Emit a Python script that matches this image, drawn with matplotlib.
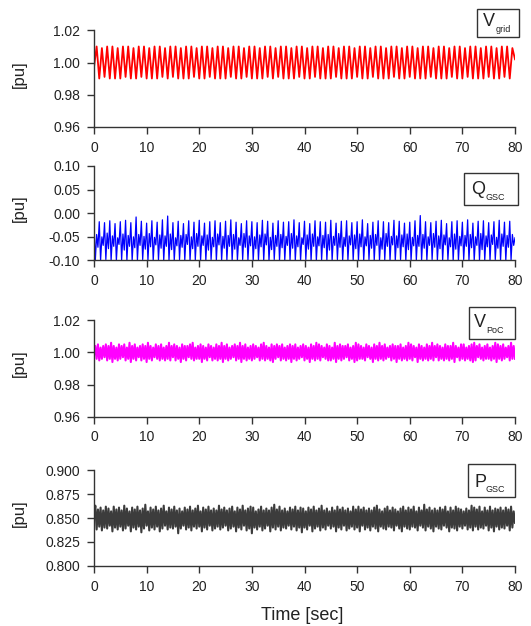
import matplotlib
matplotlib.use("Agg")
import matplotlib.pyplot as plt
from matplotlib.patches import Rectangle
import numpy as np

plt.rcParams['font.family'] = ['Liberation Sans', 'DejaVu Sans']

# time grids [sec]
t_half = np.arange(0, 80.001, 0.5)      # 161 samples
t_quarter = np.arange(0, 80.001, 0.25)  # 321 samples

# grid voltage [pu], sampled every 0.5 s
v_grid = [
    0.997, 1.010, 0.990, 1.009, 0.991, 1.010, 0.990, 1.010, 0.990, 1.009,
    0.990, 1.010, 0.991, 1.010, 0.990, 1.009, 0.990, 1.010, 0.991, 1.010,
    0.990, 1.009, 0.990, 1.010, 0.990, 1.010, 0.991, 1.009, 0.990, 1.010,
    0.991, 1.010, 0.990, 1.009, 0.990, 1.010, 0.990, 1.010, 0.991, 1.009,
    0.990, 1.010, 0.990, 1.010, 0.991, 1.009, 0.990, 1.010, 0.990, 1.010,
    0.990, 1.009, 0.991, 1.010, 0.990, 1.010, 0.990, 1.009, 0.991, 1.010,
    0.990, 1.010, 0.990, 1.009, 0.990, 1.010, 0.991, 1.010, 0.990, 1.009,
    0.991, 1.010, 0.990, 1.010, 0.990, 1.009, 0.990, 1.010, 0.991, 1.010,
    0.990, 1.009, 0.990, 1.010, 0.991, 1.010, 0.990, 1.009, 0.990, 1.010,
    0.990, 1.010, 0.991, 1.009, 0.990, 1.010, 0.990, 1.010, 0.990, 1.009,
    0.991, 1.010, 0.990, 1.010, 0.990, 1.009, 0.991, 1.010, 0.990, 1.010,
    0.990, 1.009, 0.990, 1.010, 0.991, 1.010, 0.990, 1.009, 0.990, 1.010,
    0.991, 1.010, 0.990, 1.009, 0.990, 1.010, 0.990, 1.010, 0.991, 1.009,
    0.990, 1.010, 0.990, 1.010, 0.990, 1.009, 0.991, 1.010, 0.990, 1.010,
    0.990, 1.009, 0.991, 1.010, 0.990, 1.010, 0.990, 1.009, 0.990, 1.010,
    0.991, 1.010, 0.990, 1.009, 0.990, 1.010, 0.991, 1.010, 0.990, 1.009,
    1.002,
]

# GSC reactive power [pu], sampled every 0.25 s
q_gsc = [
    -0.030, -0.100, -0.045, -0.072, -0.018, -0.100, -0.050, -0.068,
    -0.020, -0.098, -0.042, -0.075, -0.016, -0.100, -0.048, -0.070,
    -0.022, -0.100, -0.052, -0.066, -0.018, -0.099, -0.044, -0.078,
    -0.015, -0.100, -0.047, -0.070, -0.020, -0.100, -0.050, -0.073,
    -0.008, -0.100, -0.045, -0.068, -0.017, -0.098, -0.049, -0.076,
    -0.021, -0.100, -0.043, -0.071, -0.016, -0.100, -0.051, -0.067,
    -0.019, -0.099, -0.046, -0.074, -0.014, -0.100, -0.048, -0.070,
    -0.006, -0.100, -0.044, -0.077, -0.020, -0.100, -0.052, -0.069,
    -0.017, -0.098, -0.047, -0.072, -0.022, -0.100, -0.045, -0.066,
    -0.016, -0.100, -0.050, -0.075, -0.019, -0.099, -0.043, -0.070,
    -0.015, -0.100, -0.048, -0.068, -0.021, -0.100, -0.046, -0.078,
    -0.018, -0.098, -0.051, -0.071, -0.016, -0.100, -0.044, -0.067,
    -0.020, -0.100, -0.049, -0.074, -0.017, -0.099, -0.047, -0.070,
    -0.014, -0.100, -0.045, -0.076, -0.019, -0.100, -0.052, -0.068,
    -0.022, -0.098, -0.043, -0.072, -0.016, -0.100, -0.048, -0.069,
    -0.018, -0.100, -0.050, -0.075, -0.020, -0.099, -0.046, -0.071,
    -0.015, -0.100, -0.044, -0.067, -0.017, -0.100, -0.051, -0.077,
    -0.021, -0.098, -0.047, -0.070, -0.016, -0.100, -0.045, -0.073,
    -0.019, -0.100, -0.049, -0.068, -0.018, -0.099, -0.043, -0.074,
    -0.014, -0.100, -0.048, -0.071, -0.020, -0.100, -0.052, -0.066,
    -0.017, -0.098, -0.046, -0.076, -0.022, -0.100, -0.044, -0.070,
    -0.016, -0.100, -0.050, -0.069, -0.018, -0.099, -0.047, -0.073,
    -0.019, -0.100, -0.045, -0.078, -0.015, -0.100, -0.049, -0.068,
    -0.021, -0.098, -0.043, -0.072, -0.017, -0.100, -0.051, -0.070,
    -0.016, -0.100, -0.048, -0.067, -0.020, -0.099, -0.046, -0.075,
    -0.018, -0.100, -0.044, -0.071, -0.014, -0.100, -0.050, -0.069,
    -0.022, -0.098, -0.047, -0.074, -0.019, -0.100, -0.045, -0.068,
    -0.016, -0.100, -0.052, -0.076, -0.018, -0.099, -0.043, -0.070,
    -0.020, -0.100, -0.049, -0.067, -0.015, -0.100, -0.048, -0.073,
    -0.017, -0.098, -0.046, -0.071, -0.021, -0.100, -0.044, -0.077,
    -0.019, -0.100, -0.051, -0.069, -0.016, -0.099, -0.047, -0.070,
    -0.005, -0.100, -0.045, -0.074, -0.018, -0.100, -0.050, -0.068,
    -0.020, -0.098, -0.043, -0.072, -0.017, -0.100, -0.048, -0.075,
    -0.015, -0.100, -0.046, -0.067, -0.022, -0.099, -0.052, -0.071,
    -0.018, -0.100, -0.044, -0.076, -0.016, -0.100, -0.049, -0.069,
    -0.019, -0.098, -0.047, -0.070, -0.014, -0.100, -0.045, -0.073,
    -0.021, -0.100, -0.050, -0.068, -0.017, -0.099, -0.043, -0.077,
    -0.016, -0.100, -0.048, -0.071, -0.020, -0.100, -0.046, -0.066,
    -0.018, -0.098, -0.051, -0.074, -0.015, -0.100, -0.044, -0.070,
    -0.019, -0.100, -0.047, -0.072, -0.017, -0.099, -0.045, -0.068,
    -0.052,
]

# PoC voltage [pu], sampled every 0.25 s
v_poc = [
    0.998, 1.004, 0.996, 1.005, 0.995, 1.003, 0.996, 1.004, 0.997, 1.005,
    0.995, 1.004, 0.996, 1.006, 0.994, 1.004, 0.996, 1.003, 0.995, 1.005,
    0.996, 1.004, 0.997, 1.005, 0.995, 1.003, 0.996, 1.006, 0.994, 1.004,
    0.996, 1.005, 0.995, 1.003, 0.997, 1.004, 0.995, 1.005, 0.996, 1.004,
    0.994, 1.006, 0.996, 1.004, 0.995, 1.003, 0.997, 1.005, 0.996, 1.004,
    0.995, 1.005, 0.996, 1.003, 0.995, 1.004, 0.996, 1.006, 0.995, 1.004,
    0.997, 1.005, 0.995, 1.004, 0.996, 1.003, 0.994, 1.005, 0.996, 1.004,
    0.995, 1.004, 0.997, 1.005, 0.996, 1.006, 0.995, 1.003, 0.996, 1.004,
    0.996, 1.005, 0.994, 1.004, 0.996, 1.003, 0.995, 1.005, 0.997, 1.004,
    0.995, 1.003, 0.996, 1.005, 0.995, 1.004, 0.996, 1.006, 0.994, 1.004,
    0.996, 1.005, 0.995, 1.003, 0.996, 1.004, 0.997, 1.005, 0.995, 1.004,
    0.996, 1.006, 0.994, 1.004, 0.996, 1.005, 0.995, 1.003, 0.996, 1.004,
    0.995, 1.005, 0.996, 1.004, 0.997, 1.003, 0.995, 1.005, 0.996, 1.006,
    0.995, 1.004, 0.996, 1.003, 0.995, 1.005, 0.994, 1.004, 0.996, 1.005,
    0.997, 1.004, 0.995, 1.005, 0.996, 1.003, 0.995, 1.004, 0.996, 1.005,
    0.994, 1.004, 0.996, 1.005, 0.995, 1.003, 0.996, 1.004, 0.997, 1.005,
    0.995, 1.004, 0.996, 1.003, 0.994, 1.005, 0.996, 1.004, 0.995, 1.006,
    0.996, 1.005, 0.995, 1.004, 0.997, 1.003, 0.996, 1.005, 0.995, 1.004,
    0.995, 1.003, 0.996, 1.006, 0.994, 1.004, 0.996, 1.005, 0.995, 1.004,
    0.996, 1.004, 0.997, 1.005, 0.995, 1.003, 0.996, 1.004, 0.994, 1.006,
    0.995, 1.005, 0.996, 1.004, 0.996, 1.003, 0.995, 1.005, 0.997, 1.004,
    0.996, 1.003, 0.994, 1.005, 0.996, 1.004, 0.995, 1.006, 0.996, 1.004,
    0.995, 1.005, 0.996, 1.003, 0.997, 1.004, 0.995, 1.005, 0.996, 1.004,
    0.994, 1.004, 0.996, 1.005, 0.995, 1.003, 0.996, 1.004, 0.995, 1.006,
    0.996, 1.005, 0.995, 1.004, 0.997, 1.003, 0.994, 1.005, 0.996, 1.004,
    0.995, 1.003, 0.996, 1.005, 0.995, 1.004, 0.996, 1.006, 0.995, 1.004,
    0.997, 1.005, 0.995, 1.004, 0.996, 1.003, 0.995, 1.005, 0.996, 1.004,
    0.995, 1.004, 0.996, 1.006, 0.994, 1.004, 0.997, 1.003, 0.995, 1.005,
    0.996, 1.005, 0.995, 1.003, 0.996, 1.004, 0.995, 1.005, 0.994, 1.006,
    0.995, 1.004, 0.997, 1.005, 0.996, 1.003, 0.995, 1.004, 0.996, 1.005,
    0.996, 1.003, 0.995, 1.004, 0.996, 1.006, 0.994, 1.005, 0.996, 1.004,
    0.995, 1.005, 0.996, 1.003, 0.997, 1.004, 0.995, 1.006, 0.996, 1.004,
    0.996,
]

# GSC active power [pu], sampled every 0.25 s
p_gsc = [
    0.852, 0.863, 0.838, 0.859, 0.841, 0.861, 0.837, 0.858, 0.840, 0.862,
    0.839, 0.860, 0.842, 0.857, 0.836, 0.862, 0.840, 0.859, 0.838, 0.861,
    0.841, 0.858, 0.837, 0.863, 0.839, 0.860, 0.842, 0.857, 0.836, 0.861,
    0.840, 0.859, 0.838, 0.862, 0.841, 0.858, 0.835, 0.860, 0.839, 0.864,
    0.842, 0.857, 0.837, 0.861, 0.840, 0.859, 0.838, 0.862, 0.841, 0.858,
    0.836, 0.860, 0.839, 0.863, 0.842, 0.857, 0.838, 0.861, 0.840, 0.859,
    0.839, 0.862, 0.841, 0.858, 0.834, 0.860, 0.839, 0.857, 0.842, 0.861,
    0.838, 0.859, 0.840, 0.862, 0.837, 0.858, 0.841, 0.860, 0.839, 0.863,
    0.841, 0.857, 0.836, 0.861, 0.840, 0.859, 0.838, 0.862, 0.842, 0.858,
    0.837, 0.860, 0.839, 0.858, 0.841, 0.863, 0.838, 0.859, 0.840, 0.861,
    0.842, 0.858, 0.837, 0.860, 0.839, 0.862, 0.841, 0.857, 0.836, 0.861,
    0.840, 0.859, 0.838, 0.863, 0.842, 0.858, 0.837, 0.860, 0.839, 0.862,
    0.834, 0.861, 0.840, 0.857, 0.838, 0.859, 0.841, 0.862, 0.837, 0.858,
    0.839, 0.860, 0.842, 0.858, 0.836, 0.861, 0.840, 0.864, 0.838, 0.859,
    0.841, 0.862, 0.837, 0.858, 0.840, 0.860, 0.839, 0.857, 0.842, 0.861,
    0.838, 0.859, 0.841, 0.862, 0.837, 0.858, 0.840, 0.861, 0.835, 0.860,
    0.840, 0.857, 0.838, 0.861, 0.842, 0.859, 0.836, 0.862, 0.839, 0.858,
    0.841, 0.860, 0.837, 0.863, 0.840, 0.858, 0.838, 0.860, 0.842, 0.857,
    0.839, 0.861, 0.841, 0.858, 0.836, 0.862, 0.840, 0.859, 0.838, 0.861,
    0.842, 0.858, 0.837, 0.860, 0.839, 0.857, 0.841, 0.862, 0.838, 0.859,
    0.840, 0.862, 0.836, 0.859, 0.842, 0.861, 0.838, 0.858, 0.840, 0.860,
    0.837, 0.858, 0.841, 0.861, 0.839, 0.863, 0.836, 0.859, 0.841, 0.857,
    0.839, 0.860, 0.838, 0.862, 0.841, 0.858, 0.840, 0.861, 0.837, 0.859,
    0.842, 0.857, 0.839, 0.860, 0.836, 0.862, 0.841, 0.858, 0.839, 0.861,
    0.838, 0.859, 0.841, 0.862, 0.840, 0.857, 0.837, 0.861, 0.842, 0.858,
    0.840, 0.864, 0.837, 0.859, 0.841, 0.861, 0.839, 0.858, 0.836, 0.860,
    0.841, 0.858, 0.839, 0.861, 0.838, 0.859, 0.842, 0.862, 0.840, 0.857,
    0.836, 0.861, 0.840, 0.858, 0.839, 0.862, 0.837, 0.860, 0.841, 0.859,
    0.839, 0.857, 0.842, 0.860, 0.838, 0.858, 0.840, 0.863, 0.837, 0.861,
    0.841, 0.859, 0.838, 0.862, 0.840, 0.857, 0.839, 0.861, 0.842, 0.858,
    0.837, 0.862, 0.840, 0.858, 0.836, 0.860, 0.841, 0.859, 0.838, 0.861,
    0.840, 0.858, 0.839, 0.861, 0.842, 0.859, 0.837, 0.862, 0.840, 0.857,
    0.845,
]

x_ticks = [0, 10, 20, 30, 40, 50, 60, 70, 80]

panels = [
    # time, values, colour, line width, ylim, yticks, tick labels, name, sub
    (t_half, v_grid, '#ff0000', 1.3, (0.96, 1.02), [0.96, 0.98, 1.00, 1.02],
     ['0.96', '0.98', '1.00', '1.02'], 'V', 'grid'),
    (t_quarter, q_gsc, '#0000ff', 0.9, (-0.10, 0.10), [-0.10, -0.05, 0.00, 0.05, 0.10],
     ['-0.10', '-0.05', '0.00', '0.05', '0.10'], 'Q', 'GSC'),
    (t_quarter, v_poc, '#ff00ff', 1.5, (0.96, 1.02), [0.96, 0.98, 1.00, 1.02],
     ['0.96', '0.98', '1.00', '1.02'], 'V', 'PoC'),
    (t_quarter, p_gsc, '#3c3c3c', 1.5, (0.80, 0.90), [0.800, 0.825, 0.850, 0.875, 0.900],
     ['0.800', '0.825', '0.850', '0.875', '0.900'], 'P', 'GSC'),
]

W, H = 531, 626
# axes placement in pixels: (top, bottom)
ax_rows = [(30.4, 126.7), (165.9, 260.5), (320.3, 416.6), (470.4, 565.7)]
ax_left, ax_right = 94, 515
# legend boxes in pixels: (x0, x1, y0, y1, letter x, letter baseline, sub x, sub baseline)
boxes = [
    (477, 519, 9, 37, 483, 25.5, 496, 31.5),
    (464, 518, 173, 205, 471, 193.5, 485, 200),
    (469, 515, 307, 339, 474, 327, 486, 333),
    (468, 515, 464, 497, 474, 487, 486, 492.5),
]

txt = '#222222'
fig = plt.figure(figsize=(W / 100, H / 100), dpi=100)

for (t, vals, col, lw, ylim, yt, ytl, name, sub), (top, bot), bx in zip(panels, ax_rows, boxes):
    ax = fig.add_axes([ax_left / W, 1 - bot / H, (ax_right - ax_left) / W, (bot - top) / H])
    ax.plot(t, vals, color=col, lw=lw)
    ax.set_xlim(0, 80)
    ax.set_ylim(*ylim)
    ax.set_xticks(x_ticks)
    ax.set_yticks(yt)
    ax.set_yticklabels(ytl)
    for s in ['top', 'right']:
        ax.spines[s].set_visible(False)
    for s in ['left', 'bottom']:
        ax.spines[s].set_color('#333333')
        ax.spines[s].set_linewidth(1.0)
    ax.tick_params(direction='out', length=5, width=1, colors='#333333',
                   labelcolor=txt, labelsize=10, pad=5)
    ax.set_ylabel('[pu]', fontsize=12, color=txt)
    ax.yaxis.set_label_coords(-0.16, 0.55)

    x0, x1, y0, y1, lx, ly, sx, sy = bx
    fig.add_artist(Rectangle((x0 / W, 1 - y1 / H), (x1 - x0) / W, (y1 - y0) / H,
                             transform=fig.transFigure, fill=False,
                             edgecolor='#333333', lw=1.0))
    fig.text(lx / W, 1 - ly / H, name, fontsize=13, color=txt, va='baseline', ha='left')
    fig.text(sx / W, 1 - sy / H, sub, fontsize=6.5, color=txt, va='baseline', ha='left')

fig.text(302 / W, 1 - 615 / H, 'Time [sec]', fontsize=13, color=txt, ha='center', va='center')

fig.savefig('out.png', dpi=100)
